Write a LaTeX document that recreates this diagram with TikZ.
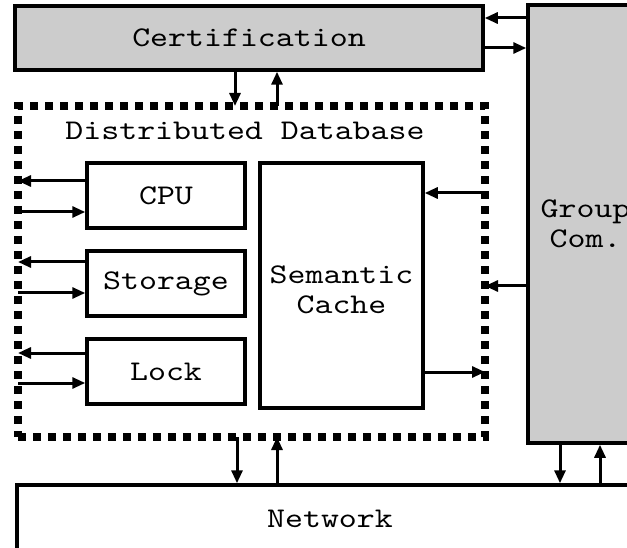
\documentclass[tikz,border=0pt]{standalone}
\usepackage{fontspec}
\newfontfamily\monofont{lmmono10-regular}[Extension=.otf, FakeStretch=1.2]
\usetikzlibrary{arrows.meta}
\definecolor{boxgray}{HTML}{CCCCCC}
\begin{document}
\begin{tikzpicture}[x=1pt,y=-1pt,
  txt/.style={font=\monofont\fontsize{28.5}{30}\selectfont, align=center},
  box/.style={txt, draw, line width=3.5pt, rectangle, inner sep=0pt},
  greybox/.style={box, fill=boxgray},
  frame/.style={draw, line width=8pt, dash pattern=on 8pt off 7pt,
    rectangle, inner sep=0pt, outer sep=0pt},
  lbl/.style={txt, inner sep=0pt},
  arr/.style={line width=3pt, -{Triangle[length=13pt,width=11pt]}}]
\useasboundingbox (0,0) rectangle (627,548);
\clip (0,0) rectangle (627,548);

% outer components
\node[greybox, minimum width=468pt, minimum height=64pt] (cert) at (249,38) {Certification};
\node[greybox, minimum width=115pt, minimum height=438pt] (group) at (585.5,224) {Group\\Com.};
\node[box, minimum width=626pt, minimum height=68pt] (net) at (330,519) {Network};

% distributed database and its parts
\node[frame, minimum width=467pt, minimum height=331pt] (db) at (251.5,271.5) {};
\node[lbl] (dblabel) at (245,131) {Distributed Database};
\node[box, minimum width=158pt, minimum height=65pt] (cpu) at (166,195.5) {CPU};
\node[box, minimum width=158pt, minimum height=65pt] (storage) at (166,283.5) {Storage};
\node[box, minimum width=158pt, minimum height=65pt] (lock) at (166,371.5) {Lock};
\node[box, minimum width=163pt, minimum height=245pt, text height=56pt, text depth=0pt] (cache) at (341.5,285.5) {Semantic\\Cache};

% certification links
\draw[arr] (235,0 |- cert.south) -- (235,0 |- db.north);
\draw[arr] (277,0 |- db.north) -- (277,0 |- cert.south);
\draw[arr] (group.west |- 0,18) -- (cert.east |- 0,18);
\draw[arr] (cert.east |- 0,48) -- (group.west |- 0,48);

% resource links
\draw[arr] (cpu.west |- 0,181) -- (db.west |- 0,181);
\draw[arr] (db.west |- 0,212) -- (cpu.west |- 0,212);
\draw[arr] (storage.west |- 0,262) -- (db.west |- 0,262);
\draw[arr] (db.west |- 0,293) -- (storage.west |- 0,293);
\draw[arr] (lock.west |- 0,353) -- (db.west |- 0,353);
\draw[arr] (db.west |- 0,383) -- (lock.west |- 0,383);

% cache links
\draw[arr] (db.east |- 0,193) -- (cache.east |- 0,193);
\draw[arr] (group.west |- 0,286) -- (db.east |- 0,286);
\draw[arr] (cache.east |- 0,372) -- (db.east |- 0,372);

% network links
\draw[arr] (237,0 |- db.south) -- (237,0 |- net.north);
\draw[arr] (277,0 |- net.north) -- (277,0 |- db.south);
\draw[arr] (560,0 |- group.south) -- (560,0 |- net.north);
\draw[arr] (600,0 |- net.north) -- (600,0 |- group.south);
\end{tikzpicture}
\end{document}
